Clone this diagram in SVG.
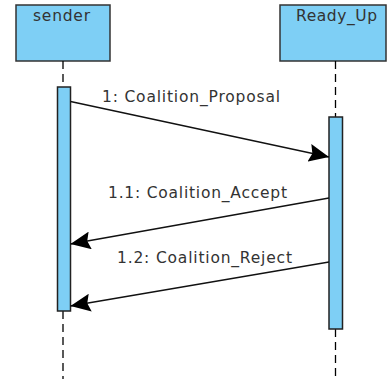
<svg xmlns="http://www.w3.org/2000/svg" width="388" height="379" viewBox="0 0 388 379">
<style>
.box{fill:#7ecff5;stroke:#333;stroke-width:1.5}
.act{fill:#7ecff5;stroke:#222;stroke-width:1.5}
.life{stroke:#000;stroke-width:1.3;stroke-dasharray:8,5;fill:none}
.msg{stroke:#111;stroke-width:1.3;fill:none}
text{font-family:"DejaVu Sans","Liberation Sans",sans-serif;font-size:15.5px;fill:#333}
</style>
<defs>
<marker id="ah" markerUnits="userSpaceOnUse" markerWidth="21" markerHeight="18" refX="20" refY="9" orient="auto">
<path d="M0,0 L20,9 L0,18 L3,9 Z" fill="#000"/>
</marker>
</defs>
<rect width="388" height="379" fill="#fff"/>
<g id="sender">
<rect class="box" x="16" y="5" width="94" height="56"/>
<text x="33" y="21" textLength="57" lengthAdjust="spacing">sender</text>
<line class="life" x1="63" y1="61" x2="63" y2="87"/>
<line class="life" x1="63" y1="311" x2="63" y2="379"/>
<rect class="act" x="57.5" y="87" width="13" height="224"/>
</g>
<g id="Ready_Up">
<rect class="box" x="280" y="5" width="106" height="56"/>
<text x="296" y="21" textLength="81" lengthAdjust="spacing">Ready_Up</text>
<line class="life" x1="335.5" y1="61" x2="335.5" y2="117"/>
<line class="life" x1="335.5" y1="329" x2="335.5" y2="379"/>
<rect class="act" x="329" y="117" width="13.5" height="212"/>
</g>
<g id="connectors">
<line class="msg" x1="70.5" y1="101.5" x2="329" y2="157" marker-end="url(#ah)"/>
<text x="102" y="102" textLength="178" lengthAdjust="spacing">1: Coalition_Proposal</text>
<line class="msg" x1="329" y1="198" x2="70.5" y2="244" marker-end="url(#ah)"/>
<text x="108" y="198" textLength="179" lengthAdjust="spacing">1.1: Coalition_Accept</text>
<line class="msg" x1="329" y1="262" x2="70.5" y2="306" marker-end="url(#ah)"/>
<text x="117" y="263" textLength="175" lengthAdjust="spacing">1.2: Coalition_Reject</text>
</g>
</svg>
